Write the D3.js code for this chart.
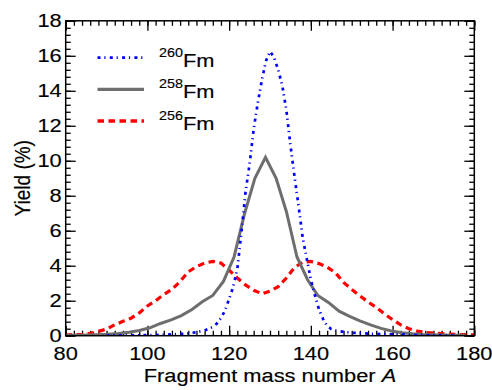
<!DOCTYPE html>
<html>
<head>
<meta charset="utf-8">
<script src="https://cdn.jsdelivr.net/npm/d3@7"></script>
<style>
  html, body { margin: 0; padding: 0; background: #fff; }
  svg { display: block; }
  text { font-family: "Liberation Sans", Arial, Helvetica, sans-serif; fill: #000; stroke: #000; stroke-width: 0.15; }
</style>
</head>
<body>
<svg id="chart" width="492" height="390"></svg>
<script>
// ---- data ----
const xTickValues = [80, 100, 120, 140, 160, 180];
const yTickValues = [0, 2, 4, 6, 8, 10, 12, 14, 16, 18];

const seriesNames = ["260", "258", "256"];
const seriesColors = ["#0000ff", "#6e6e6e", "#ff0000"];

// 260Fm (blue, dash-dot)
const fm260Mass = [90, 95, 100, 104, 108, 110, 112, 114, 116, 117, 118, 119, 120, 121, 122, 123, 124, 125, 126, 127, 128, 129, 130, 131, 132, 133, 134, 135, 136, 137, 138, 139, 140, 141, 142, 143, 144, 145, 146, 148, 150, 155, 160, 165, 170, 175];
const fm260Yield = [0.01, 0.02, 0.03, 0.05, 0.1, 0.13, 0.2, 0.3, 0.5, 0.7, 1.0, 1.45, 2.1, 2.8, 3.8, 5.9, 8.2, 9.8, 11.8, 13.3, 14.6, 15.7, 16.25, 15.9, 15.2, 14.3, 12.9, 10.9, 9.1, 7.4, 5.6, 4.4, 3.2, 2.3, 1.5, 0.95, 0.55, 0.38, 0.3, 0.22, 0.17, 0.11, 0.08, 0.04, 0.02, 0.01];

// 258Fm (gray, solid)
const fm258Mass = [80.1, 82.6, 85.2, 87.8, 90.3, 92.9, 95.5, 98.0, 100.6, 103.2, 105.8, 108.3, 110.9, 113.5, 116.0, 118.6, 121.2, 123.8, 126.3, 128.9, 131.5, 134.0, 136.6, 139.2, 141.7, 144.3, 146.9, 149.5, 152.0, 154.6, 157.2, 159.7, 162.3, 164.9, 167.5, 170.0, 172.6, 175.2, 177.7];
const fm258Yield = [0.02, 0.03, 0.04, 0.06, 0.08, 0.12, 0.2, 0.3, 0.45, 0.7, 0.9, 1.15, 1.5, 1.95, 2.3, 3.1, 4.5, 7.0, 9.0, 10.2, 9.0, 7.1, 4.5, 3.2, 2.3, 1.9, 1.4, 1.1, 0.85, 0.62, 0.42, 0.27, 0.17, 0.11, 0.07, 0.05, 0.04, 0.03, 0.02];

// 256Fm (red, dashed)
const fm256Mass = [80, 82, 84, 86, 88, 90, 92, 94, 96, 98, 100, 102, 104, 106, 108, 110, 112, 114, 116, 118, 120, 122, 124, 126, 128, 130, 132, 134, 136, 138, 140, 142, 144, 146, 148, 150, 152, 154, 156, 158, 160, 162, 164, 166, 168, 170, 172, 174, 176, 178, 180];
const fm256Yield = [0.04, 0.06, 0.08, 0.13, 0.25, 0.38, 0.62, 0.82, 1.0, 1.3, 1.7, 2.0, 2.35, 2.65, 3.1, 3.65, 3.95, 4.15, 4.25, 4.15, 3.75, 3.3, 2.9, 2.6, 2.4, 2.55, 2.8, 3.3, 3.9, 4.2, 4.25, 4.12, 3.92, 3.6, 3.05, 2.65, 2.28, 1.93, 1.62, 1.25, 0.92, 0.62, 0.4, 0.27, 0.19, 0.15, 0.12, 0.09, 0.07, 0.06, 0.05];

// ---- layout ----
const svg = d3.select("#chart");
const L = 65.7, R = 474.3, T = 20.8, B = 335.7;
const SX = 1.15; // horizontal stretch of the lettering in the reference
const FS = 19;
const blueDash = "3,3.8,1.2,4.3";
const redDash = "6.5,4.5";

const x = d3.scaleLinear().domain([80, 180]).range([L, R]);
const y = d3.scaleLinear().domain([0, 18]).range([B, T]);

const xMinor = d3.range(80, 180.001, 2);
const yMinor = d3.range(0, 18.001, 0.4);

function tickAxis(axisFn, scale, values, size, tr) {
  const g = svg.append("g").attr("transform", tr)
    .call(axisFn(scale).tickValues(values).tickSize(-size).tickFormat(""));
  g.select(".domain").remove();
  g.selectAll(".tick line").attr("stroke", "#000").attr("stroke-width", 1.3);
  return g;
}

// ticks on all four sides, pointing inward
tickAxis(d3.axisBottom, x, xMinor, 5, `translate(0,${B})`);
tickAxis(d3.axisBottom, x, xTickValues, 10, `translate(0,${B})`);
tickAxis(d3.axisTop, x, xMinor, 5, `translate(0,${T})`);
tickAxis(d3.axisTop, x, xTickValues, 10, `translate(0,${T})`);
tickAxis(d3.axisLeft, y, yMinor, 5, `translate(${L},0)`);
tickAxis(d3.axisLeft, y, yTickValues, 10, `translate(${L},0)`);
tickAxis(d3.axisRight, y, yMinor, 5, `translate(${R},0)`);
tickAxis(d3.axisRight, y, yTickValues, 10, `translate(${R},0)`);

// curves
svg.append("clipPath").attr("id", "plotclip")
  .append("rect").attr("x", L).attr("y", T).attr("width", R - L).attr("height", B - T);

const line = d3.line().x(d => x(d[0])).y(d => y(d[1]));
const plot = svg.append("g").attr("clip-path", "url(#plotclip)");

plot.append("path")
  .datum(d3.zip(fm256Mass, fm256Yield))
  .attr("d", line).attr("fill", "none")
  .attr("stroke", seriesColors[2]).attr("stroke-width", 3.2)
  .attr("stroke-dasharray", redDash);

plot.append("path")
  .datum(d3.zip(fm258Mass, fm258Yield))
  .attr("d", line).attr("fill", "none")
  .attr("stroke", seriesColors[1]).attr("stroke-width", 3)
  .attr("stroke-linejoin", "miter");

plot.append("path")
  .datum(d3.zip(fm260Mass, fm260Yield))
  .attr("d", line).attr("fill", "none")
  .attr("stroke", seriesColors[0]).attr("stroke-width", 2.7)
  .attr("stroke-dasharray", blueDash);

// frame
svg.append("rect").attr("x", L).attr("y", T).attr("width", R - L).attr("height", B - T)
  .attr("fill", "none").attr("stroke", "#000").attr("stroke-width", 1.5);

// tick labels
xTickValues.forEach(v => {
  svg.append("g").attr("transform", `translate(${x(v)},360) scale(${SX},1)`)
    .append("text").attr("text-anchor", "middle").attr("font-size", FS).text(v);
});
yTickValues.forEach(v => {
  svg.append("g").attr("transform", `translate(${L - 4},${y(v) + 6.5}) scale(${SX},1)`)
    .append("text").attr("text-anchor", "end").attr("font-size", FS).text(v);
});

// axis titles
const xt = svg.append("g").attr("transform", `translate(${(L + R) / 2},382) scale(${SX},1)`)
  .append("text").attr("text-anchor", "middle").attr("font-size", FS);
xt.append("tspan").text("Fragment mass number ");
xt.append("tspan").attr("font-style", "italic").text("A");

svg.append("g").attr("transform", `translate(30,${(T + B) / 2}) scale(${SX},1) rotate(-90)`)
  .append("text").attr("text-anchor", "middle").attr("font-size", FS).text("Yield (%)");

// legend
const legendY = [57.7, 89.3, 121];
const legendStyle = [
  { w: 2.7, dash: blueDash },
  { w: 3.3, dash: null },
  { w: 3.3, dash: redDash }
];
seriesNames.forEach((name, i) => {
  const ly = legendY[i];
  const ln = svg.append("line").attr("x1", 97.5).attr("x2", 144).attr("y1", ly).attr("y2", ly)
    .attr("stroke", seriesColors[i]).attr("stroke-width", legendStyle[i].w);
  if (legendStyle[i].dash) ln.attr("stroke-dasharray", legendStyle[i].dash);
  const t = svg.append("g").attr("transform", `translate(159,${ly + 9}) scale(${SX},1)`)
    .append("text").attr("font-size", FS);
  t.append("tspan").attr("font-size", 12.5).attr("dy", -10).text(name);
  t.append("tspan").attr("dy", 10).text("Fm");
});
</script>
</body>
</html>
